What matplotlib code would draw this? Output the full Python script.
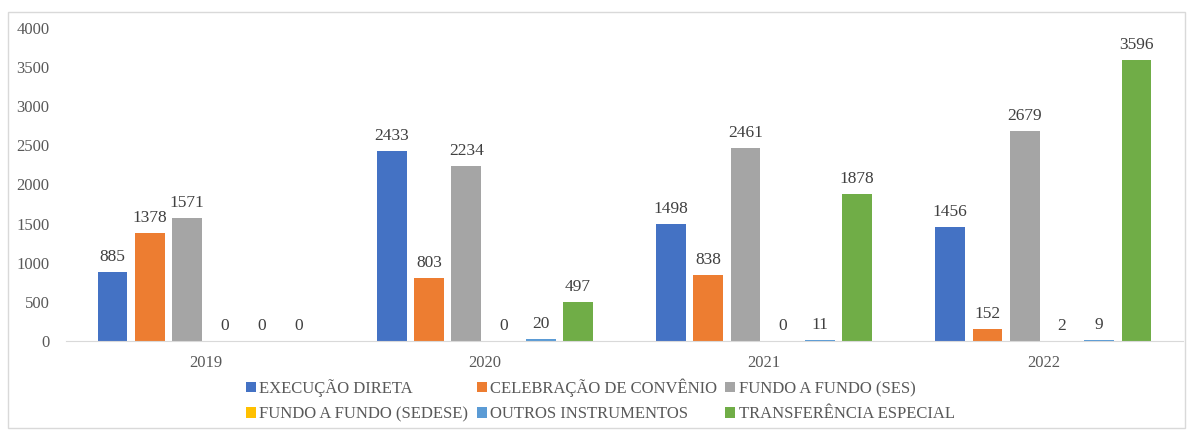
import numpy as np
import matplotlib.pyplot as plt
from matplotlib.patches import Rectangle

# Dados
anos = ['2019', '2020', '2021', '2022']
series = ['EXECUÇÃO DIRETA', 'CELEBRAÇÃO DE CONVÊNIO', 'FUNDO A FUNDO (SES)',
          'FUNDO A FUNDO (SEDESE)', 'OUTROS INSTRUMENTOS', 'TRANSFERÊNCIA ESPECIAL']
execucao_direta = [885, 2433, 1498, 1456]
celebracao_convenio = [1378, 803, 838, 152]
fundo_ses = [1571, 2234, 2461, 2679]
fundo_sedese = [0, 0, 0, 2]
outros_instrumentos = [0, 20, 11, 9]
transferencia_especial = [0, 497, 1878, 3596]
cores = ['#4472C4', '#ED7D31', '#A5A5A5', '#FFC000', '#5B9BD5', '#70AD47']

valores = [execucao_direta, celebracao_convenio, fundo_ses,
           fundo_sedese, outros_instrumentos, transferencia_especial]

plt.rcParams['font.family'] = ['Liberation Serif', 'DejaVu Serif']
cor_texto = '#595959'

fig = plt.figure(figsize=(11.89, 4.30), dpi=100)
fig.patches.append(Rectangle((8/1189, 2/430), 1177/1189, 416/430, transform=fig.transFigure,
                             fill=False, edgecolor='#D9D9D9', linewidth=1))
ax = fig.add_axes([66/1189, 1 - 341/430, 1117/1189, 313/430])

x = np.arange(len(anos))
passo = 0.8 / 6
largura = passo * 0.8
for i, (nome, vals) in enumerate(zip(series, valores)):
    pos = x - 0.4 + passo * (i + 0.5)
    barras = ax.bar(pos, vals, largura, color=cores[i], label=nome)
    for b, v in zip(barras, vals):
        ax.annotate(str(v), (b.get_x() + b.get_width() / 2, v), xytext=(0, 5),
                    textcoords='offset points', ha='center', va='bottom',
                    fontsize=12.5, color='#404040')

ax.set_ylim(0, 4000)
ax.set_xlim(-0.5, 3.5)
ax.set_yticks(range(0, 4001, 500))
ax.set_xticks(x)
ax.set_xticklabels(anos)
ax.tick_params(axis='both', length=0, labelsize=12, colors=cor_texto)
ax.tick_params(axis='x', pad=10)
ax.tick_params(axis='y', pad=12)
for lado in ['top', 'right', 'left']:
    ax.spines[lado].set_visible(False)
ax.spines['bottom'].set_color('#D9D9D9')

# legenda preenchida por linhas (como no Excel)
handles, labels = ax.get_legend_handles_labels()
ordem = [0, 3, 1, 4, 2, 5]
fig.legend([handles[k] for k in ordem], [labels[k] for k in ordem],
           loc='lower center', bbox_to_anchor=(0.505, -0.005), ncol=3, frameon=False,
           fontsize=12, handlelength=0.6, handleheight=0.6, handletextpad=0.2,
           columnspacing=0.5, labelspacing=0.55, labelcolor=cor_texto, borderaxespad=0.2)

fig.savefig('out.png', dpi=100)
